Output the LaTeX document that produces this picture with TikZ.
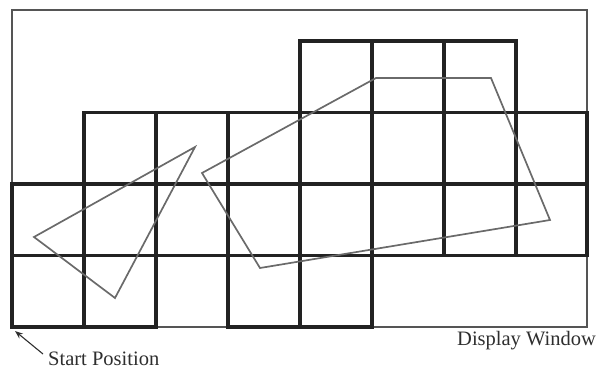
\documentclass[tikz,border=0pt]{standalone}
\usepackage{fontspec}
\setmainfont{Liberation Serif}
\usetikzlibrary{arrows.meta}
\definecolor{gridc}{HTML}{222222}
\definecolor{polyc}{HTML}{6A6A6A}
\definecolor{framec}{HTML}{555555}
\definecolor{textc}{HTML}{2E2E2E}
\tikzset{
  cellbox/.style={draw=gridc, line width=3.2pt, line join=miter},
  polyline/.style={draw=polyc, line width=1.7pt, line join=miter},
  framebox/.style={draw=framec, line width=1.3pt},
  lbl/.style={inner sep=0pt, text=textc, font=\fontsize{20.5}{22}\selectfont},
  ptr/.style={draw=textc, line width=1.1pt, -{Stealth[length=8pt,width=6pt]}}
}
\begin{document}
\begin{tikzpicture}[x=1pt,y=-1pt]
\useasboundingbox (0,0) rectangle (598,368);
% display window
\draw[framebox] (12,10) rectangle (587,327);
% grid cells
\foreach \c/\r in {4/0,5/0,6/0,
                   1/1,2/1,3/1,4/1,5/1,6/1,7/1,
                   0/2,1/2,2/2,3/2,4/2,5/2,6/2,7/2,
                   0/3,1/3,3/3,4/3}{
  \pgfmathsetmacro{\xa}{12+72*\c}
  \pgfmathsetmacro{\xb}{min(12+72*(\c+1),587)}
  \pgfmathsetmacro{\ya}{41+71.5*\r}
  \pgfmathsetmacro{\yb}{41+71.5*(\r+1)}
  \draw[cellbox] (\xa,\ya) rectangle (\xb,\yb);
}
% triangle
\draw[polyline] (195,147) -- (34,237) -- (115,298) -- cycle;
% pentagon
\draw[polyline] (202,173) -- (376,78) -- (491,78) -- (550,220) -- (260,268) -- cycle;
% labels
\node[lbl, anchor=base west] (start) at (48,365) {Start Position};
\node[lbl, anchor=base west] (disp) at (457,345) {Display Window};
\coordinate (corner) at (15,331);
\draw[ptr] (43,354) -- (corner);
\end{tikzpicture}
\end{document}
